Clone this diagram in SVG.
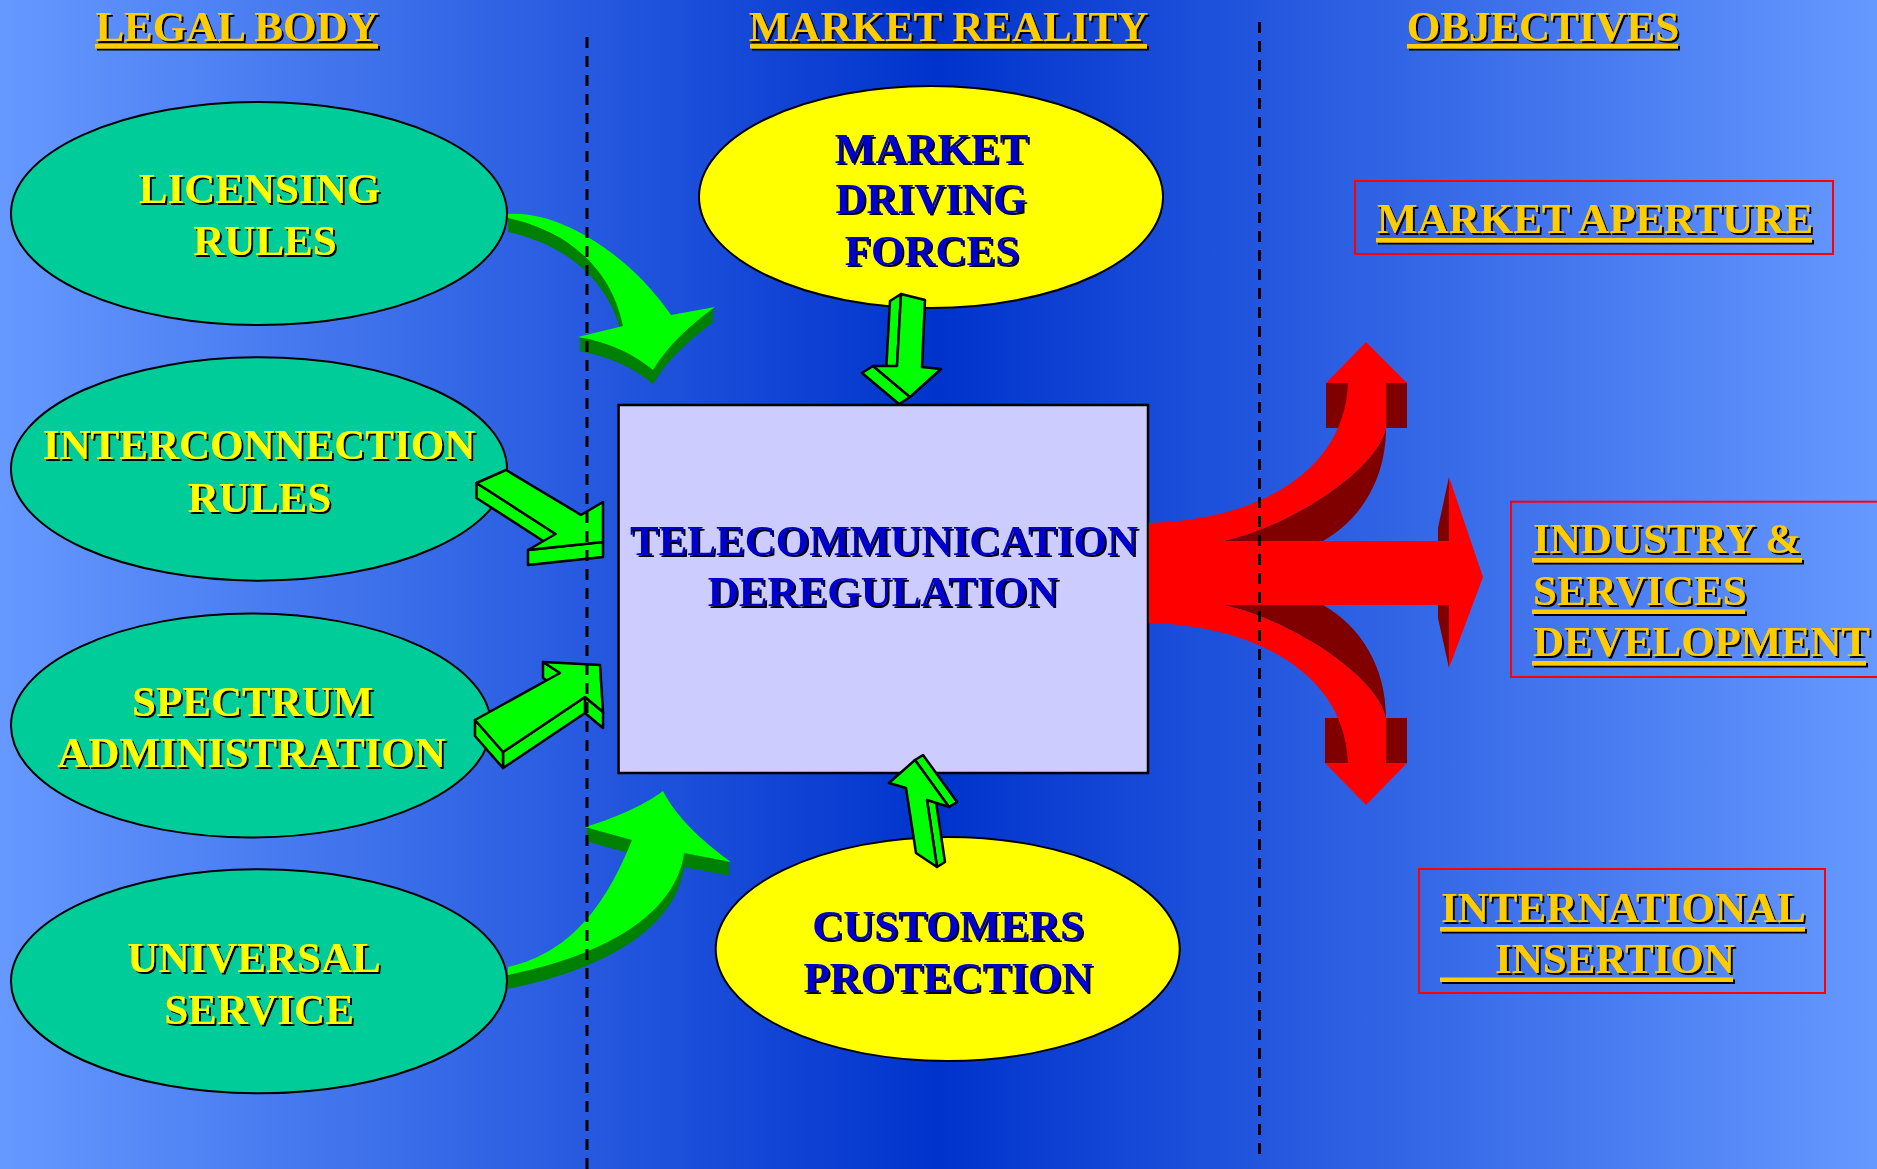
<svg xmlns="http://www.w3.org/2000/svg" width="1877" height="1169" viewBox="0 0 1877 1169">
<defs>
<linearGradient id="bg" x1="0" y1="0" x2="1" y2="0">
<stop offset="0" stop-color="#6699FF"/>
<stop offset="0.5" stop-color="#0033CC"/>
<stop offset="1" stop-color="#6699FF"/>
</linearGradient>
<filter id="sh" x="-10%" y="-20%" width="120%" height="150%">
<feOffset in="SourceAlpha" dx="2" dy="2" result="o"/>
<feMerge><feMergeNode in="o"/><feMergeNode in="SourceGraphic"/></feMerge>
</filter>
<path id="a1" d="M508,214 C560,210 630,255 671,315 L715,307 C690,325 668,345 653,370 C635,355 610,342 578,337 L623,326 C615,285 585,235 508,218 Z"/>
<path id="a4" d="M508,967 C560,955 600,920 632,840 L585,827 C610,820 645,805 663,791 C675,815 700,840 731,862 L684,853 C678,900 630,950 508,975 Z"/>
</defs>
<style>
text { font-family: "Liberation Serif","Times New Roman",serif; font-weight: bold; font-size: 43px; }
.hd { fill:#FFCC00; text-anchor: middle; }
.yl { fill:#FFFF00; text-anchor: middle; }
.bl { fill:#0000CC; text-anchor: middle; }
.gd { fill:#FFCC00; }
.ul { fill:#FFCC00; }
.gel { fill:#00CC99; stroke:#000; stroke-width:2; }
.yel { fill:#FFFF00; stroke:#000; stroke-width:2; }
.box { fill:none; stroke:#FF0000; stroke-width:2; }
.g3d { fill:#00FF00; stroke:#000; stroke-width:2.5; stroke-linejoin:round; }
.dk { fill:#008000; }
.lt { fill:#00FF00; }
.rd { fill:#FF0000; }
.rdk { fill:#800000; }
.div { stroke:#000; stroke-width:3; stroke-dasharray:11 8; fill:none; }
</style>

<rect id="background" x="0" y="0" width="1877" height="1169" fill="url(#bg)"/>

<g id="headers">
<g filter="url(#sh)">
<text class="hd" x="237" y="41">LEGAL BODY</text>
<rect class="ul" x="95" y="44" width="283" height="4.5"/>
</g>
<g filter="url(#sh)">
<text class="hd" x="948.5" y="41">MARKET REALITY</text>
<rect class="ul" x="750" y="44" width="397" height="4.5"/>
</g>
<g filter="url(#sh)">
<text class="hd" x="1543" y="41">OBJECTIVES</text>
<rect class="ul" x="1407" y="44" width="271" height="4.5"/>
</g>
</g>

<g id="node-licensing">
<ellipse class="gel" cx="259" cy="213.5" rx="248" ry="111.5"/>
<g filter="url(#sh)">
<text class="yl" x="259.5" y="203">LICENSING</text>
<text class="yl" x="265" y="255">RULES</text>
</g>
</g>

<g id="node-interconnection">
<ellipse class="gel" cx="259" cy="469" rx="248" ry="111.7"/>
<g filter="url(#sh)">
<text class="yl" x="259" y="459">INTERCONNECTION</text>
<text class="yl" x="259.5" y="512">RULES</text>
</g>
</g>

<g id="node-spectrum">
<ellipse class="gel" cx="251" cy="725.5" rx="240" ry="112"/>
<g filter="url(#sh)">
<text class="yl" x="252.7" y="716">SPECTRUM</text>
<text class="yl" x="251.5" y="767">ADMINISTRATION</text>
</g>
</g>

<g id="node-universal">
<ellipse class="gel" cx="259" cy="981.3" rx="248" ry="112"/>
<g filter="url(#sh)">
<text class="yl" x="254" y="972">UNIVERSAL</text>
<text class="yl" x="259" y="1024">SERVICE</text>
</g>
</g>

<g id="node-market-driving-forces">
<ellipse class="yel" cx="931" cy="197" rx="232" ry="111"/>
<g filter="url(#sh)">
<text class="bl" x="931.6" y="163">MARKET</text>
<text class="bl" x="931" y="213">DRIVING</text>
<text class="bl" x="932" y="265">FORCES</text>
</g>
</g>

<g id="node-customers-protection">
<ellipse class="yel" cx="947.7" cy="949" rx="232" ry="112"/>
<g filter="url(#sh)">
<text class="bl" x="948" y="940">CUSTOMERS</text>
<text class="bl" x="948" y="992">PROTECTION</text>
</g>
</g>

<g id="node-deregulation">
<rect x="618.6" y="405" width="529.4" height="368" fill="#CCCCFF" stroke="#000" stroke-width="2.5"/>
<g filter="url(#sh)">
<text class="bl" x="884" y="555">TELECOMMUNICATION</text>
<text class="bl" x="883" y="606">DEREGULATION</text>
</g>
</g>

<g id="node-market-aperture">
<rect class="box" x="1355" y="181" width="478" height="73"/>
<g filter="url(#sh)">
<text class="gd" x="1377" y="233">MARKET APERTURE</text>
<rect class="ul" x="1376" y="238" width="436" height="4.5"/>
</g>
</g>

<g id="node-industry">
<rect class="box" x="1511" y="501.7" width="380" height="175.3"/>
<g filter="url(#sh)">
<text class="gd" x="1533" y="553">INDUSTRY &amp;</text>
<rect class="ul" x="1532" y="558" width="270" height="4.5"/>
<text class="gd" x="1533" y="605">SERVICES</text>
<rect class="ul" x="1532" y="609.5" width="213" height="4.5"/>
<text class="gd" x="1533" y="656">DEVELOPMENT</text>
<rect class="ul" x="1532" y="661" width="334" height="4.5"/>
</g>
</g>

<g id="node-international">
<rect class="box" x="1419" y="869" width="406" height="124"/>
<g filter="url(#sh)">
<text class="gd" x="1441" y="922">INTERNATIONAL</text>
<rect class="ul" x="1440" y="927" width="365" height="4.5"/>
<text class="gd" x="1495" y="973">INSERTION</text>
<rect class="ul" x="1440" y="977.5" width="293" height="4.5"/>
</g>
</g>

<g id="connectors">
<g id="arrow-licensing">
<g class="dk">
<use href="#a1" y="2"/><use href="#a1" y="4"/><use href="#a1" y="6"/><use href="#a1" y="8"/><use href="#a1" y="10"/><use href="#a1" y="12"/><use href="#a1" y="14"/>
</g>
<use href="#a1" class="lt"/>
</g>
<g id="arrow-universal">
<g class="dk">
<use href="#a4" y="2"/><use href="#a4" y="4"/><use href="#a4" y="6"/><use href="#a4" y="8"/><use href="#a4" y="10"/><use href="#a4" y="12"/><use href="#a4" y="14"/>
</g>
<use href="#a4" class="lt"/>
</g>
<g id="arrow-interconnection">
<polygon class="g3d" points="555.6,534 476.5,483 476.5,498 555.6,549"/>
<polygon class="g3d" points="603,542 528,550 528,565 603,557"/>
<polygon class="g3d" points="476.5,483 506,470 581,515 603,502 603,542 528,550 555.6,534"/>
</g>
<g id="arrow-spectrum">
<polygon class="g3d" points="560,673 543,662 543,678 560,689"/>
<polygon class="g3d" points="603,712 585,697 585,713 603,728"/>
<polygon class="g3d" points="585,697 503,752 503,768 585,713"/>
<polygon class="g3d" points="503,752 475,720 475,736 503,768"/>
<polygon class="g3d" points="475,720 560,673 543,662 600,665 603,712 585,697 503,752"/>
</g>
<g id="arrow-market-forces">
<polygon class="g3d" points="897,366 901,294 890,301 886,373"/>
<polygon class="g3d" points="910,397 873,366 862,373 899,404"/>
<polygon class="g3d" points="901,294 925,300 922,367 941,369 910,397 873,366 897,366"/>
</g>
<g id="arrow-customers">
<polygon class="g3d" points="915,760 949,807 957,802 923,755"/>
<polygon class="g3d" points="927,800 937,867 945,862 935,795"/>
<polygon class="g3d" points="915,760 949,807 927,800 937,867 916,853 906,788 889,783"/>
</g>
<g id="arrow-objectives">
<rect class="rdk" x="1326" y="383" width="81" height="45"/>
<rect class="rdk" x="1325" y="718" width="82" height="45"/>
<path class="rdk" d="M1223,541 L1323,541 C1360,520 1386,480 1386,428 C1375,475 1280,530 1223,541 Z"/>
<path class="rdk" d="M1223,605 L1323,605 C1360,626 1386,666 1386,718 C1375,671 1280,616 1223,605 Z"/>
<polygon class="rdk" points="1449,477 1438,528 1438,541 1449,541"/>
<polygon class="rdk" points="1449,605 1438,605 1438,618 1449,668"/>
<polygon class="rd" points="1326,383 1407,383 1366,342"/>
<polygon class="rd" points="1325,763 1407,763 1366,805"/>
<path class="rd" d="M1149,523 C1260,520 1345,470 1348,383 L1386,383 L1386,428 C1375,475 1280,530 1223,541 L1449,541 L1449,477 L1483,577 L1449,668 L1449,605 L1223,605 C1280,616 1375,671 1386,718 L1386,763 L1348,763 C1345,676 1260,626 1149,623 Z"/>
</g>
</g>

<g id="dividers">
<line class="div" x1="587" y1="37" x2="587" y2="1169"/>
<line class="div" x1="1259.5" y1="22" x2="1259.5" y2="1155"/>
</g>
</svg>
